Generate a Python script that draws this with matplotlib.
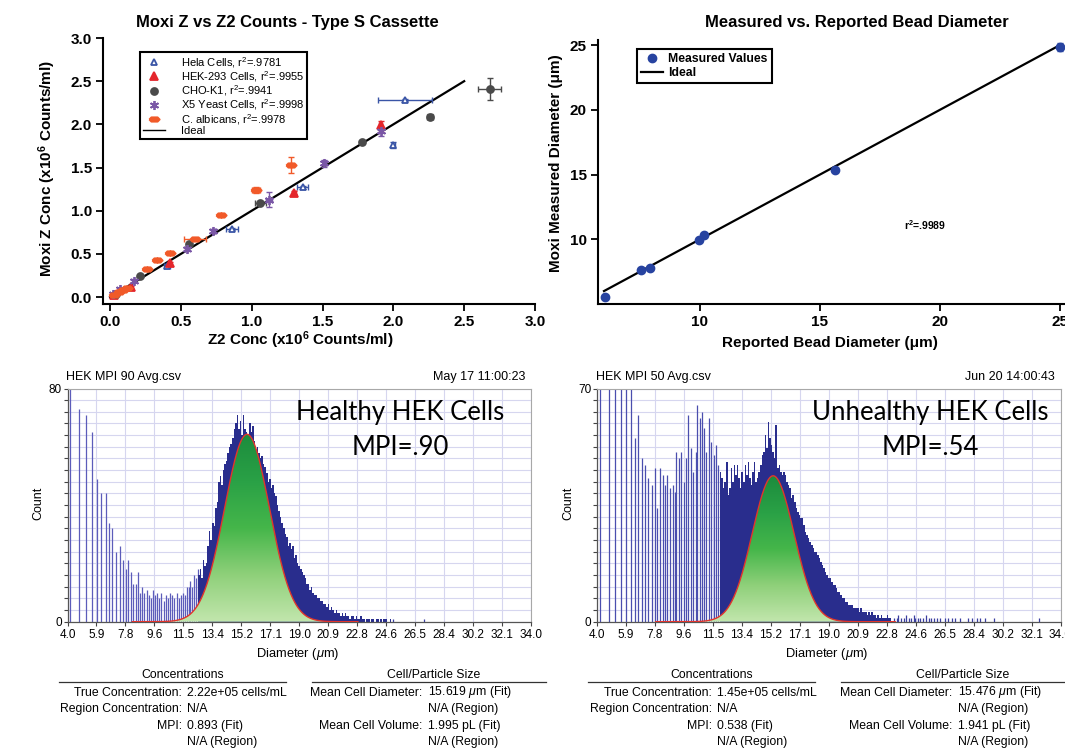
import numpy as np
import matplotlib
matplotlib.use('Agg')
import matplotlib.pyplot as plt
from matplotlib.colors import LinearSegmentedColormap
from matplotlib.lines import Line2D

plt.rcParams['font.family'] = ['Liberation Sans', 'DejaVu Sans']
plt.rcParams['mathtext.fontset'] = 'custom'
plt.rcParams['mathtext.rm'] = 'Liberation Sans'
plt.rcParams['mathtext.it'] = 'Liberation Sans:italic'
plt.rcParams['mathtext.bf'] = 'Liberation Sans:bold'

W, H = 1065, 749

# ---------------- top left: Moxi Z vs Z2 counts ----------------
hela_x = [0.03, 0.40, 0.86, 1.36, 2.00, 2.08]
hela_y = [0.03, 0.36, 0.79, 1.27, 1.76, 2.28]
hela_xerr = [0, 0.02, 0.04, 0.04, 0.01, 0.19]
hela_yerr = [0, 0.02, 0.01, 0.02, 0.03, 0.01]

hek_x = [0.03, 0.15, 0.42, 1.30, 1.91]
hek_y = [0.03, 0.12, 0.39, 1.21, 1.99]
hek_xerr = [0, 0, 0.01, 0.01, 0.01]
hek_yerr = [0, 0.01, 0.02, 0.02, 0.05]

cho_x = [0.04, 0.21, 0.56, 1.06, 1.78, 2.26, 2.68]
cho_y = [0.04, 0.24, 0.62, 1.09, 1.79, 2.09, 2.41]
cho_xerr = [0, 0, 0.01, 0.04, 0.01, 0.02, 0.08]
cho_yerr = [0, 0, 0.01, 0.01, 0.01, 0.03, 0.13]

x5_x = [0.02, 0.07, 0.17, 0.54, 0.73, 1.12, 1.51, 1.91]
x5_y = [0.04, 0.09, 0.19, 0.56, 0.77, 1.13, 1.55, 1.92]
x5_xerr = [0, 0, 0, 0.01, 0.01, 0.02, 0.01, 0.01]
x5_yerr = [0, 0, 0.02, 0.02, 0.02, 0.09, 0.04, 0.05]

calb_x = [0.03, 0.06, 0.09, 0.12, 0.26, 0.33, 0.42, 0.60, 0.78, 1.03, 1.28]
calb_y = [0.03, 0.06, 0.08, 0.11, 0.33, 0.43, 0.51, 0.67, 0.95, 1.24, 1.53]
calb_xerr = [0, 0, 0, 0, 0, 0, 0, 0.08, 0, 0.03, 0]
calb_yerr = [0, 0, 0, 0, 0, 0, 0, 0, 0, 0.03, 0.09]

ideal_counts = [0.0, 2.5]

# ---------------- top right: bead diameters ----------------
bead_reported = [6.06, 7.55, 7.92, 9.97, 10.17, 15.64, 24.98]
bead_measured = [5.57, 7.63, 7.81, 9.92, 10.33, 15.37, 24.87]
bead_err = [0.12, 0.03, 0.03, 0.05, 0.05, 0.05, 0.30]
ideal_bead = [6.0, 25.0]

# ---------------- histograms ----------------
diam_labels = ['4.0', '5.9', '7.8', '9.6', '11.5', '13.4', '15.2', '17.1', '19.0',
               '20.9', '22.8', '24.6', '26.5', '28.4', '30.2', '32.1', '34.0']

healthy_sparse_d = [4.17, 4.73, 5.18, 5.56, 5.89, 6.19, 6.46, 6.70, 6.91, 7.17,
                    7.39, 7.60, 7.77, 7.94, 8.09, 8.24, 8.41, 8.56, 8.72, 8.85,
                    8.98, 9.12, 9.25, 9.38, 9.52, 9.66, 9.80, 9.94, 10.08, 10.22,
                    10.36, 10.50, 10.64, 10.78, 10.92, 11.06, 11.20, 11.34, 11.48, 11.60,
                    11.72, 11.84, 11.96, 12.08, 12.20, 12.32, 12.44]
healthy_sparse_c = [84, 73, 71, 65, 49, 44, 44, 34, 32, 24,
                    26, 21, 18, 21, 17, 13, 13, 17, 10, 12,
                    10, 11, 9, 8, 11, 9, 10, 8, 10, 7,
                    9, 8, 10, 9, 8, 10, 8, 9, 10, 9,
                    12, 12, 14, 12, 16, 15, 18]
healthy_dense_start = 12.5
healthy_dense_c = [16, 18, 15, 21, 19, 20, 26, 31, 28, 34,
                   33, 39, 41, 48, 50, 47, 52, 54, 55, 58,
                   60, 61, 63, 66, 68, 71, 66, 69, 64, 71,
                   66, 65, 64, 68, 65, 67, 62, 59, 60, 58,
                   56, 57, 54, 53, 51, 48, 49, 46, 47, 44,
                   43, 40, 38, 36, 34, 32, 30, 29, 26, 27,
                   25, 26, 22, 23, 20, 19, 18, 17, 16, 15,
                   13, 13, 11, 12, 10, 9, 9, 8, 8, 7,
                   7, 6, 6, 5, 6, 4, 5, 4, 3, 4,
                   3, 3, 2, 3, 2, 3, 2, 2, 1, 2,
                   2, 1, 2, 1, 1, 2, 1, 1, 0, 1,
                   1, 0, 1, 1, 0, 1, 1, 0, 1, 0,
                   1, 1, 0, 0, 1]
healthy_tail_d = [25.1, 27.1]
healthy_tail_c = [1, 1]
healthy_fit = dict(mu=15.62, sigma=1.45, peak=64.3, lo=8.2, hi=22.8)

unhealthy_sparse_d = [4.17, 4.75, 5.18, 5.54, 5.87, 6.19, 6.46, 6.68, 6.89, 7.11,
                      7.32, 7.58, 7.75, 7.90, 8.07, 8.24, 8.39, 8.54, 8.71, 8.89,
                      9.04, 9.14, 9.31, 9.46, 9.61, 9.74, 9.91, 10.06, 10.21, 10.39,
                      10.49, 10.64, 10.79, 10.90, 11.07, 11.24, 11.41, 11.55, 11.68, 11.82]
unhealthy_sparse_c = [75, 75, 75, 75, 75, 75, 55, 62, 49, 47,
                      43, 41, 46, 34, 46, 44, 41, 44, 40, 41,
                      39, 51, 49, 51, 42, 49, 62, 52, 45, 51,
                      65, 61, 63, 58, 51, 61, 54, 50, 53, 47]
unhealthy_dense_start = 12.0
unhealthy_dense_c = [45, 43, 40, 42, 48, 38, 40, 46, 42, 47,
                     44, 47, 43, 40, 45, 42, 47, 44, 48, 43,
                     41, 45, 48, 42, 43, 45, 47, 50, 51, 56,
                     52, 60, 55, 53, 51, 49, 59, 46, 47, 45,
                     44, 45, 44, 42, 41, 40, 37, 38, 36, 34,
                     33, 32, 31, 31, 29, 27, 26, 25, 24, 23,
                     22, 21, 21, 20, 19, 18, 17, 16, 15, 14,
                     13, 13, 12, 11, 11, 10, 9, 9, 8, 7,
                     7, 6, 6, 5, 5, 5, 4, 4, 4, 4,
                     3, 4, 3, 3, 3, 2, 3, 2, 3, 2,
                     2, 1, 2, 1, 2, 1, 1, 1, 2, 1,
                     1]
unhealthy_tail_d = [23.2, 23.4, 23.5, 23.7, 23.9, 24.0, 24.2, 24.3, 24.5, 24.6,
                    24.8, 24.9, 25.1, 25.3, 25.5, 25.6, 25.8, 26.0, 26.2, 26.5,
                    26.7, 27.0, 27.2, 27.5, 28.0, 28.3, 28.6, 28.8, 29.1, 29.7, 32.6]
unhealthy_tail_c = [1, 1, 2, 1, 1, 2, 1, 1, 2, 1,
                    1, 1, 1, 2, 1, 1, 1, 1, 1, 1,
                    1, 1, 1, 1, 1, 1, 1, 1, 1, 1, 1]
unhealthy_fit = dict(mu=15.40, sigma=1.35, peak=43.8, lo=7.8, hi=23.3)

healthy_table = ['2.22e+05 cells/mL', 'N/A', '0.893 (Fit)', 'N/A (Region)',
                 r'15.619 $\mu$m (Fit)', 'N/A (Region)', '1.995 pL (Fit)', 'N/A (Region)']
unhealthy_table = ['1.45e+05 cells/mL', 'N/A', '0.538 (Fit)', 'N/A (Region)',
                   r'15.476 $\mu$m (Fit)', 'N/A (Region)', '1.941 pL (Fit)', 'N/A (Region)']

fig = plt.figure(figsize=(W / 100, H / 100), dpi=100)


def rect(l, t, r, b):
    return [l / W, 1 - b / H, (r - l) / W, (b - t) / H]


def ftext(x, y, s, **kw):
    fig.text(x / W, 1 - y / H, s, **kw)


def bold_ticks(ax):
    for lab in ax.get_xticklabels() + ax.get_yticklabels():
        lab.set_fontweight('bold')


# ===== top left =====
ax1 = fig.add_axes(rect(103, 38, 535, 304))
ax1.plot(ideal_counts, ideal_counts, color='black', lw=1.6, zorder=2)

flat_hex = [(-1, 0), (-0.6, 0.42), (0.6, 0.42), (1, 0), (0.6, -0.42), (-0.6, -0.42), (-1, 0)]
series = [
    ('Hela Cells, r$^2$=.9781', hela_x, hela_y, hela_xerr, hela_yerr, '#3a55a6', '^', 5, 'white'),
    ('HEK-293 Cells, r$^2$=.9955', hek_x, hek_y, hek_xerr, hek_yerr, '#e4262c', '^', 5.5, None),
    ('CHO-K1, r$^2$=.9941', cho_x, cho_y, cho_xerr, cho_yerr, '#4a4a4a', 'o', 5, None),
    ('X5 Yeast Cells, r$^2$=.9998', x5_x, x5_y, x5_xerr, x5_yerr, '#7a57a6', (6, 2, 0), 6.5, None),
    ('C. albicans, r$^2$=.9978', calb_x, calb_y, calb_xerr, calb_yerr, '#f15a29', flat_hex, 7.5, None),
]
handles, labels = [], []
for lab, x, y, xe, ye, col, mk, ms, mfc in series:
    ax1.errorbar(x, y, xerr=xe, yerr=ye, fmt='none', ecolor=col, elinewidth=1,
                 capsize=2.5, capthick=1, zorder=3)
    h, = ax1.plot(x, y, ls='none', marker=mk, ms=ms, color=col,
                  mfc=mfc if mfc else col, mec=col, mew=1.3, zorder=4)
    handles.append(h)
    labels.append(lab)
handles.append(Line2D([], [], color='black', lw=1))
labels.append('Ideal')

ax1.set_xlim(-0.05, 3.0)
ax1.set_ylim(-0.08, 3.0)
ax1.set_xticks([0, 0.5, 1.0, 1.5, 2.0, 2.5, 3.0])
ax1.set_yticks([0, 0.5, 1.0, 1.5, 2.0, 2.5, 3.0])
ax1.xaxis.set_major_formatter('{x:.1f}')
ax1.yaxis.set_major_formatter('{x:.1f}')
for s in ['top', 'right']:
    ax1.spines[s].set_visible(False)
for s in ['left', 'bottom']:
    ax1.spines[s].set_linewidth(1.5)
ax1.tick_params(direction='out', length=5, width=1.3, labelsize=11, pad=3)
bold_ticks(ax1)
leg = ax1.legend(handles, labels, loc='upper left', bbox_to_anchor=(140 / W, 1 - 52 / H),
                 bbox_transform=fig.transFigure, borderaxespad=0, fancybox=False,
                 edgecolor='black', fontsize=8, handlelength=2.0, handletextpad=1.4,
                 labelspacing=-0.05, borderpad=0.25, framealpha=1)
leg.get_frame().set_linewidth(1.5)
ftext(287, 23, 'Moxi Z vs Z2 Counts - Type S Cassette', ha='center', va='center',
      fontsize=12, fontweight='bold')
ftext(300, 340, r'Z2 Conc (x10$^{\mathbf{6}}$ Counts/ml)', ha='center', va='center',
      fontsize=11, fontweight='bold')
ftext(47, 168, r'Moxi Z Conc (x10$^{\mathbf{6}}$ Counts/ml)', ha='center', va='center',
      fontsize=11, fontweight='bold', rotation=90)

# ===== top right =====
ax2 = fig.add_axes(rect(598, 40, 1096, 304))
ax2.plot(ideal_bead, ideal_bead, color='black', lw=1.6, zorder=2)
ax2.errorbar(bead_reported, bead_measured, yerr=bead_err, fmt='none', ecolor='#2743a0',
             elinewidth=1, capsize=2.5, zorder=3)
h_meas, = ax2.plot(bead_reported, bead_measured, ls='none', marker='o', ms=6,
                   color='#2743a0', zorder=4)
ax2.set_xlim(5.75, 26.5)
ax2.set_ylim(5.0, 25.39)
ax2.set_xticks([10, 15, 20, 25])
ax2.set_yticks([10, 15, 20, 25])
for s in ['top', 'right']:
    ax2.spines[s].set_visible(False)
for s in ['left', 'bottom']:
    ax2.spines[s].set_linewidth(1.5)
ax2.tick_params(direction='out', length=5, width=1.3, labelsize=11, pad=3)
bold_ticks(ax2)
leg2 = ax2.legend([h_meas, Line2D([], [], color='black', lw=1.6)], ['Measured Values', 'Ideal'],
                  loc='upper left', bbox_to_anchor=(637 / W, 1 - 49 / H),
                  bbox_transform=fig.transFigure, borderaxespad=0, fancybox=False,
                  edgecolor='black', handlelength=1.8, handletextpad=0.4,
                  labelspacing=0.15, borderpad=0.35, framealpha=1,
                  prop={'size': 8.8, 'weight': 'bold'})
leg2.get_frame().set_linewidth(1.5)
ax2.text(18.5, 11.1, r'r$^{\mathbf{2}}$=.9989', fontsize=7.5, fontweight='bold',
         ha='left', va='center')
ftext(857, 23, 'Measured vs. Reported Bead Diameter', ha='center', va='center',
      fontsize=12, fontweight='bold')
ftext(830, 343, 'Reported Bead Diameter (\u03bcm)', ha='center', va='center',
      fontsize=11, fontweight='bold')
ftext(556, 163, 'Moxi Measured Diameter (\u03bcm)', ha='center', va='center',
      fontsize=11, fontweight='bold', rotation=90)

# ===== histograms =====
green_cmap = LinearSegmentedColormap.from_list(
    'fitgreen', ['#c2e6ad', '#8fd07a', '#45b64a', '#2aa146', '#1c8c3d'])


def hist_panel(x0, ymax, sp_d, sp_c, dn_start, dn_c, tl_d, tl_c, fit,
               fname, stamp, big1, big2, table, sp_color):
    ax = fig.add_axes(rect(x0, 388.5, x0 + 463.5, 621.7))
    ax.set_axisbelow(True)
    ax.grid(True, color='#d6d6ef', lw=0.8)
    ax.vlines(sp_d, 0, sp_c, color=sp_color, lw=0.9, zorder=2)
    dn_d = dn_start + 0.1 * np.arange(len(dn_c))
    ax.bar(dn_d, dn_c, width=0.1, color='#292d8d', linewidth=0, zorder=2)
    ax.vlines(tl_d, 0, tl_c, color='#3a3ea0', lw=0.9, zorder=2)

    xf = np.linspace(fit['lo'], fit['hi'], 600)
    yf = fit['peak'] * np.exp(-0.5 * ((xf - fit['mu']) / fit['sigma']) ** 2)
    poly = ax.fill_between(xf, 0, yf, facecolor='none', edgecolor='none', zorder=3)
    grad = np.linspace(0, 1, 256).reshape(-1, 1)
    im = ax.imshow(grad, extent=[fit['lo'], fit['hi'], 0, fit['peak']], origin='lower',
                   aspect='auto', cmap=green_cmap, zorder=3, interpolation='bilinear')
    im.set_clip_path(poly.get_paths()[0], transform=ax.transData)
    ax.plot(xf, yf, color='#e2352c', lw=1.0, zorder=4)

    ax.set_xlim(4, 34)
    ax.set_ylim(0, ymax)
    ax.set_xticks(np.linspace(4, 34, len(diam_labels)))
    ax.set_xticklabels(diam_labels)
    ax.set_yticks(np.linspace(0, ymax, 21))
    ax.set_yticklabels(['0'] + [''] * 19 + [str(ymax)])
    for s in ['top', 'right']:
        ax.spines[s].set_color('#a8a8a8')
        ax.spines[s].set_linewidth(0.8)
    for s in ['left', 'bottom']:
        ax.spines[s].set_color('#555555')
        ax.spines[s].set_linewidth(0.9)
    ax.tick_params(direction='out', length=3, width=0.8, color='#444444',
                   labelsize=8.5, pad=2)
    ax.tick_params(axis='y', labelsize=8.5, pad=1)

    ftext(x0 - 1, 377, fname, ha='left', va='center', fontsize=9)
    ftext(x0 + 458, 377, stamp, ha='right', va='center', fontsize=9)
    ftext(x0 - 29, 503, 'Count', ha='center', va='center', fontsize=9, rotation=90)
    ftext(x0 + 230, 654, r'Diameter ($\mu$m)', ha='center', va='center', fontsize=9.3)
    big_font = ['Lato', 'DejaVu Sans']
    ftext(x0 + 333, 412, big1, ha='center', va='center', fontsize=18.5, family=big_font)
    ftext(x0 + 333, 447, big2, ha='center', va='center', fontsize=18.5, family=big_font)

    # summary table (text placed on baselines so mathtext rows line up)
    ftext(x0 + 115, 678, 'Concentrations', ha='center', va='baseline', fontsize=8.8)
    ftext(x0 + 366, 678, 'Cell/Particle Size', ha='center', va='baseline', fontsize=8.8)
    fig.add_artist(Line2D([(x0 - 9) / W, (x0 + 218) / W], [1 - 681.5 / H] * 2,
                          color='#333333', lw=0.9))
    fig.add_artist(Line2D([(x0 + 244) / W, (x0 + 478) / W], [1 - 681.5 / H] * 2,
                          color='#333333', lw=0.9))
    rows = [695.5, 712, 729, 745.5]
    left_labels = ['True Concentration:', 'Region Concentration:', 'MPI:', '']
    right_labels = ['Mean Cell Diameter:', '', 'Mean Cell Volume:', '']
    for i, yy in enumerate(rows):
        ftext(x0 + 114.8, yy, left_labels[i], ha='right', va='baseline', fontsize=8.8)
        ftext(x0 + 119.6, yy, table[i], ha='left', va='baseline', fontsize=8.8)
        ftext(x0 + 355, yy, right_labels[i], ha='right', va='baseline', fontsize=8.8)
        ftext(x0 + 361, yy, table[4 + i], ha='left', va='baseline', fontsize=8.8)
    return ax


hist_panel(67.5, 80, healthy_sparse_d, healthy_sparse_c, healthy_dense_start, healthy_dense_c,
           healthy_tail_d, healthy_tail_c, healthy_fit, 'HEK MPI 90 Avg.csv',
           'May 17 11:00:23', 'Healthy HEK Cells', 'MPI=.90', healthy_table, '#5c5cba')
hist_panel(597, 70, unhealthy_sparse_d, unhealthy_sparse_c, unhealthy_dense_start,
           unhealthy_dense_c, unhealthy_tail_d, unhealthy_tail_c, unhealthy_fit,
           'HEK MPI 50 Avg.csv', 'Jun 20 14:00:43', 'Unhealthy HEK Cells', 'MPI=.54',
           unhealthy_table, '#4a4eae')

fig.savefig('out.png', dpi=100)
